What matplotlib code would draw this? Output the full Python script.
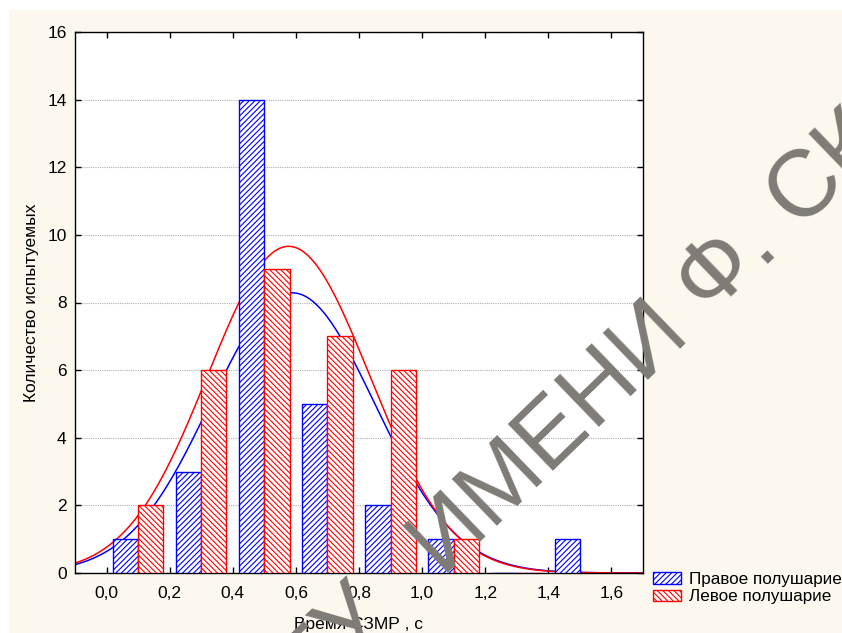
import numpy as np
import matplotlib
matplotlib.use("Agg")
import matplotlib.pyplot as plt
from matplotlib.patches import Rectangle
from matplotlib.font_manager import FontProperties, findfont, get_font

plt.rcParams['font.family'] = ['Liberation Sans', 'DejaVu Sans']
plt.rcParams['hatch.linewidth'] = 0.8

# ---- data ----
bin_centers = [0.1, 0.3, 0.5, 0.7, 0.9, 1.1, 1.3, 1.5]
right_counts = [1, 3, 14, 5, 2, 1, 0, 1]   # Правое полушарие
left_counts = [2, 6, 9, 7, 6, 1, 0, 0]     # Левое полушарие
right_mean, right_sd = 0.589, 0.26
left_mean, left_sd = 0.577, 0.256
bin_width = 0.2
xticks = [0.0, 0.2, 0.4, 0.6, 0.8, 1.0, 1.2, 1.4, 1.6]
yticks = [0, 2, 4, 6, 8, 10, 12, 14, 16]
watermark = 'ГГУ ИМЕНИ Ф. СКОРИНЫ'

W, H = 842, 633
fig = plt.figure(figsize=(W/100, H/100), dpi=100)
fig.patch.set_facecolor('white')
fig.patches.append(Rectangle((9/W, 0), 1, 1 - 10/H, transform=fig.transFigure,
                             facecolor='#fcf8ee', edgecolor='none', zorder=-10))

ax = fig.add_axes([75/W, 1 - 573/H, (643-75)/W, (573-32)/H])
ax.set_facecolor('white')

blue = '#0000ff'
red = '#ff0000'
bw = 0.08
xc = np.array(bin_centers)
ax.bar(xc - bw/2, right_counts, width=bw, facecolor='white', edgecolor=blue,
       hatch='//////', linewidth=1.0, zorder=3, label='Правое полушарие')
ax.bar(xc + bw/2, left_counts, width=bw, facecolor='white', edgecolor=red,
       hatch='\\\\\\\\\\\\', linewidth=1.0, zorder=3, label='Левое полушарие')

xs = np.linspace(-0.1, 1.7, 400)
def normal_curve(m, s, n):
    return n * bin_width / (s * np.sqrt(2*np.pi)) * np.exp(-0.5*((xs - m)/s)**2)
ax.plot(xs, normal_curve(right_mean, right_sd, sum(right_counts)), color=blue, lw=1.1, zorder=2)
ax.plot(xs, normal_curve(left_mean, left_sd, sum(left_counts)), color=red, lw=1.1, zorder=2)

ax.set_xlim(-0.1, 1.7)
ax.set_ylim(0, 16)
ax.set_xticks(xticks)
ax.set_xticklabels([f"{t:.1f}".replace('.', ',') for t in xticks])
ax.set_yticks(yticks)
ax.yaxis.grid(True, linestyle=(0, (1, 1)), color='#b0b0b0', linewidth=0.8, zorder=0)
ax.set_axisbelow(True)
ax.tick_params(direction='in', length=4, width=1, labelsize=12.5, top=True, right=True)
ax.tick_params(axis='x', pad=9)
ax.tick_params(axis='y', pad=6)
for s in ax.spines.values():
    s.set_linewidth(1.0)

ax.set_xlabel('Время СЗМР , с', fontsize=12.5, labelpad=12)
ax.set_ylabel('Количество испытуемых', fontsize=12.5, labelpad=6)

fig.legend(loc='upper left', bbox_to_anchor=(646/W, 1 - 565/H), frameon=False,
           fontsize=12.3, handlelength=1.65, handleheight=0.65, handletextpad=0.47,
           labelspacing=0.15, borderaxespad=0)

# ---- watermark: characters laid along a diagonal line ----
fs = 68
ang_deg = 44
ang = np.deg2rad(ang_deg)
prop = FontProperties(family='Liberation Sans', size=fs)
font = get_font(findfont(prop))
font.set_size(fs, 100)
adv = []
for c in watermark:
    g = font.load_char(ord(c))
    a = g.linearHoriAdvance / 65536
    if c == ' ' and len(adv) == 3:
        a *= 2.6   # wider gap after "ГГУ"
    adv.append(a)
starts = np.concatenate([[0], np.cumsum(adv)[:-1]])
centers = starts + np.array(adv) / 2
d = np.array([np.cos(ang), np.sin(ang)])
up = np.array([-np.sin(ang), np.cos(ang)])
iF = watermark.index('Ф')
F_center = np.array([710, H - 265])
half_cap = 0.716 * fs * 100 / 72 / 2
origin = F_center - half_cap * up - centers[iF] * d
for c, cc in zip(watermark, centers):
    if c == ' ':
        continue
    p = origin + cc * d
    fig.text(p[0], p[1], c, transform=None, fontproperties=prop, color='#7f7b76',
             rotation=ang_deg, rotation_mode='anchor', ha='center', va='baseline', zorder=20)

fig.savefig('out.png', dpi=100)
